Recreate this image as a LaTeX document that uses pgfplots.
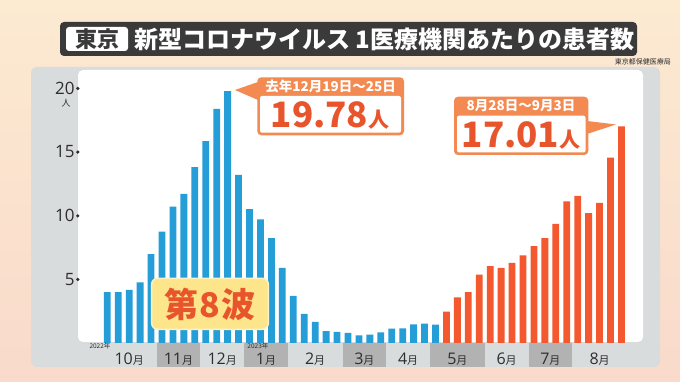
\documentclass[border=0pt]{standalone}
\usepackage{pgfplots}
\usepackage{pgfplotstable}
\pgfplotsset{compat=1.18}
\usepackage{fontspec}
\setmainfont{Noto Sans CJK JP}
\newfontfamily\num{Open Sans}
\definecolor{barblue}{HTML}{259ED8}
\definecolor{barorange}{HTML}{F3582E}
\definecolor{panel}{HTML}{D9DCDC}
\definecolor{monthbox}{HTML}{B2B2B2}
\definecolor{titlebg}{HTML}{3A3A3A}
\definecolor{callout}{HTML}{F28A52}
\definecolor{callouttext}{HTML}{E8552D}
\definecolor{yellowbox}{HTML}{FDE58C}
\definecolor{txt}{HTML}{2E2E2E}
\definecolor{bgT}{HTML}{FCEAD1}
\definecolor{bgB}{HTML}{F9DACB}
\newcommand\mo[1]{{\num #1}{\fontsize{11}{11}\selectfont 月}}
\pgfplotstableread{
x y
0 4.00
1 4.00
2 4.17
3 4.75
4 6.98
5 8.74
6 10.70
7 11.70
8 13.80
9 15.85
10 18.37
11 19.78
12 13.20
13 10.50
14 9.70
15 8.24
16 5.90
17 3.70
18 2.28
19 1.65
20 0.94
21 0.87
22 0.79
23 0.60
24 0.65
25 0.84
26 1.13
27 1.15
28 1.47
29 1.52
30 1.44
}\bluedata
\pgfplotstableread{
x y
31 2.46
32 3.59
33 4.00
34 5.36
35 6.04
36 5.89
37 6.28
38 6.88
39 7.61
40 8.24
41 9.36
42 11.12
43 11.54
44 10.20
45 10.99
46 14.55
47 17.01
}\orangedata
\begin{document}
\begin{tikzpicture}[x=1pt,y=1pt]
\shade[top color=bgT, bottom color=bgB] (0,0) rectangle (680,382);
\fill[panel, rounded corners=6pt] (31,15) rectangle (660,315);
\fill[white, rounded corners=5pt] (78,40) rectangle (643,312);
% month boxes
\fill[monthbox] (156.5,15) rectangle (200.3,39);
\fill[monthbox] (244.1,15) rectangle (287.8,39);
\fill[monthbox] (342.5,15) rectangle (386.3,39);
\fill[monthbox] (430.0,15) rectangle (484.7,39);
\fill[monthbox] (528.5,15) rectangle (572.3,39);
% title
\fill[titlebg, rounded corners=4pt] (60,326) rectangle (637,360);
\fill[white, rounded corners=3pt] (66,331) rectangle (128,355);
\node[font=\fontsize{22}{22}\selectfont\bfseries, text=titlebg, inner sep=0pt] at (97,343) {東京};
\node[font=\fontsize{24}{24}\selectfont\bfseries, text=white, anchor=west, inner sep=0pt] at (134,343) {新型コロナウイルス 1医療機関あたりの患者数};
\node[font=\fontsize{7}{7}\selectfont, text=txt, anchor=east, inner sep=0pt] at (671,320) {東京都保健医療局};
\begin{axis}[at={(78pt,39pt)}, anchor=south west, scale only axis,
  width=565pt, height=273pt,
  xmin=-2.68, xmax=48.97, ymin=0, ymax=21.43,
  clip=false, axis line style={draw=none}, major tick length=0pt,
  ytick={5,10,15,20},
  yticklabel={\pgfmathprintnumber{\tick}\hspace{1.5pt}\tikz[baseline={(0,-5.8pt)}]\fill[txt] (0,0) circle (1.8pt);},
  yticklabel style={font=\num\fontsize{17}{17}\selectfont, text=txt, anchor=east, inner sep=0pt, xshift=1.8pt},
  /pgf/number format/assume math mode=true,
  xtick={2,6.5,10.5,14.5,19,23.5,27.5,32,36.5,40.5,45},
  xticklabels={\mo{10},\mo{11},\mo{12},\mo{1},\mo{2},\mo{3},\mo{4},\mo{5},\mo{6},\mo{7},\mo{8}},
  xticklabel style={font=\fontsize{16}{16}\selectfont, text=txt, anchor=center, inner sep=0pt, yshift=-16pt},
]
\addplot[ybar, bar width=6.8pt, fill=barblue, draw=none] table[x=x,y=y] {\bluedata};
\addplot[ybar, bar width=6.8pt, fill=barorange, draw=none] table[x=x,y=y] {\orangedata};
\node[font=\fontsize{6.5}{6.5}\selectfont, text=txt, inner sep=0pt] at (axis cs:-0.67,-0.25) {2022年};
\node[font=\fontsize{6.5}{6.5}\selectfont, text=txt, inner sep=0pt] at (axis cs:13.77,-0.25) {2023年};
\end{axis}
\node[font=\fontsize{9}{9}\selectfont, text=txt, inner sep=0pt] at (66,279) {人};
% callout 1
\fill[callout] (258,300) -- (235,292) -- (258,282) -- cycle;
\fill[callout, rounded corners=4pt] (257.3,246.7) rectangle (404,304.7);
\fill[white, rounded corners=2pt] (260,249.3) rectangle (401,286);
\node[font=\fontsize{13.5}{13.5}\selectfont\bfseries, text=white, inner sep=0pt] at (330.6,295.5) {去年12月19日～25日};
\node[text=callouttext, inner sep=0pt, font=\bfseries] at (330,267) {\fontsize{35}{35}\selectfont 19.78\fontsize{21}{21}\selectfont 人};
% callout 2
\fill[callout] (587,261) -- (616,257.5) -- (587,248) -- cycle;
\fill[callout, rounded corners=4pt] (454,227) rectangle (588.3,285.3);
\fill[white, rounded corners=2pt] (457,229.5) rectangle (585.5,266.3);
\node[font=\fontsize{13.5}{13.5}\selectfont\bfseries, text=white, inner sep=0pt] at (521,276) {8月28日～9月3日};
\node[text=callouttext, inner sep=0pt, font=\bfseries] at (521,247) {\fontsize{35}{35}\selectfont 17.01\fontsize{21}{21}\selectfont 人};
% 第8波
\draw[fill=yellowbox, draw=yellowbox!50!white, line width=1.5pt, rounded corners=6pt] (151.7,52.7) rectangle (268.3,103.7);
\node[font=\fontsize{34}{34}\selectfont\bfseries, text=callouttext, inner sep=0pt] at (210,78) {第\hspace{1pt}8\hspace{1pt}波};
\end{tikzpicture}
\end{document}
